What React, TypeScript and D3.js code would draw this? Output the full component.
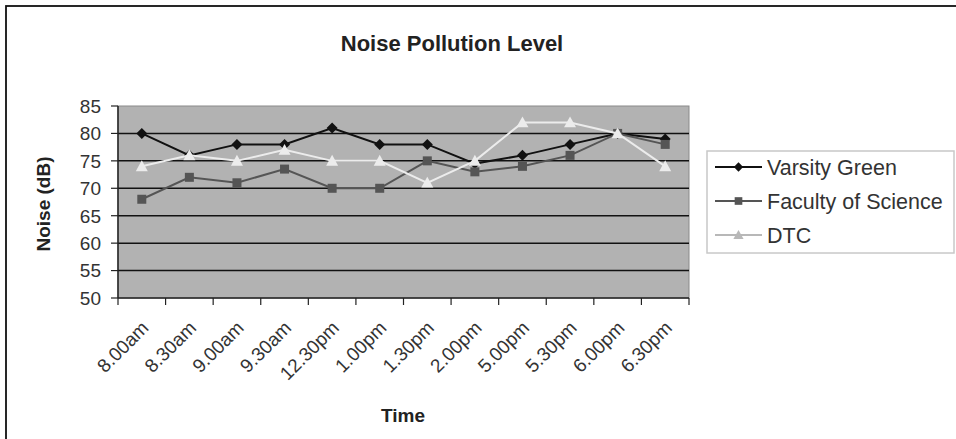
import React from 'react'
import * as d3 from 'd3'

const times = ['8.00am', '8.30am', '9.00am', '9.30am', '12.30pm', '1.00pm', '1.30pm', '2.00pm', '5.00pm', '5.30pm', '6.00pm', '6.30pm']
const varsityGreen = [80, 76, 78, 78, 81, 78, 78, 74.5, 76, 78, 80, 79]
const facultyOfScience = [68, 72, 71, 73.5, 70, 70, 75, 73, 74, 76, 80, 78]
const dtc = [74, 76, 75, 77, 75, 75, 71, 75, 82, 82, 80, 74]
const yTicks = [50, 55, 60, 65, 70, 75, 80, 85]

const W = 956
const H = 439
const plot = { left: 118, right: 689, top: 106, bottom: 298 }
const font = '"Liberation Sans", Arial, sans-serif'

type Series = { name: string; values: number[]; color: string; marker: 'diamond' | 'square' | 'triangle' }

const series: Series[] = [
  { name: 'Varsity Green', values: varsityGreen, color: '#111111', marker: 'diamond' },
  { name: 'Faculty of Science', values: facultyOfScience, color: '#555555', marker: 'square' },
  { name: 'DTC', values: dtc, color: '#ececec', marker: 'triangle' },
]

const Marker = ({ kind, x, y, color, s = 1 }: { kind: Series['marker']; x: number; y: number; color: string; s?: number }) => {
  if (kind === 'diamond') {
    const r = 5.5 * s
    return <path d={`M${x},${y - r}L${x + r},${y}L${x},${y + r}L${x - r},${y}Z`} fill={color} />
  }
  if (kind === 'square') {
    const r = 4.5 * s
    return <rect x={x - r} y={y - r} width={r * 2} height={r * 2} fill={color} />
  }
  const r = 6 * s
  return <path d={`M${x},${y - r}L${x + r},${y + r * 0.8}L${x - r},${y + r * 0.8}Z`} fill={color} />
}

export default function App() {
  const x = d3.scaleBand<string>().domain(times).range([plot.left, plot.right])
  const y = d3.scaleLinear().domain([50, 85]).range([plot.bottom, plot.top])
  const cx = (t: string) => (x(t) ?? 0) + x.bandwidth() / 2
  const line = d3.line<number>().x((_, i) => cx(times[i])).y(d => y(d))

  const legendY = [167, 201, 235]

  return (
    <svg width={W} height={H} style={{ position: 'absolute', left: 0, top: 0, background: '#fff' }} fontFamily={font}>
      <rect x={6} y={6} width={W} height={H} fill="#fff" stroke="#111" strokeWidth={1.8} />

      <text x={452} y={51} textAnchor="middle" fontSize={22} fontWeight="bold" fill="#222">Noise Pollution Level</text>

      {/* plot area */}
      <rect x={plot.left} y={plot.top} width={plot.right - plot.left} height={plot.bottom - plot.top} fill="#b2b2b2" stroke="#8a8a8a" />
      {yTicks.slice(1, -1).map(t => (
        <line key={t} x1={plot.left} x2={plot.right} y1={y(t)} y2={y(t)} stroke="#111" strokeWidth={1.5} />
      ))}

      {/* y axis */}
      <line x1={plot.left} x2={plot.left} y1={plot.top} y2={plot.bottom} stroke="#222" strokeWidth={1.5} />
      {yTicks.map(t => (
        <g key={t}>
          <line x1={plot.left - 7} x2={plot.left} y1={y(t)} y2={y(t)} stroke="#222" strokeWidth={1.2} />
          <text x={plot.left - 17} y={y(t)} dy="0.36em" textAnchor="end" fontSize={19} fill="#333">{t}</text>
        </g>
      ))}
      <text transform={`translate(50,${(plot.top + plot.bottom) / 2 + 2}) rotate(-90)`} textAnchor="middle" fontSize={19} fontWeight="bold" fill="#222">Noise (dB)</text>

      {/* x axis */}
      <line x1={plot.left} x2={plot.right} y1={plot.bottom} y2={plot.bottom} stroke="#222" strokeWidth={1.5} />
      {times.map(t => (
        <line key={t} x1={(x(t) ?? 0) + x.bandwidth()} x2={(x(t) ?? 0) + x.bandwidth()} y1={plot.bottom} y2={plot.bottom + 7} stroke="#222" strokeWidth={1.2} />
      ))}
      <line x1={plot.left} x2={plot.left} y1={plot.bottom} y2={plot.bottom + 7} stroke="#222" strokeWidth={1.2} />
      {times.map(t => (
        <text key={t} transform={`translate(${cx(t) + 8},${plot.bottom + 31}) rotate(-45)`} textAnchor="end" fontSize={19} fill="#333">{t}</text>
      ))}
      <text x={403} y={422} textAnchor="middle" fontSize={19} fontWeight="bold" fill="#222">Time</text>

      {/* series */}
      {series.map(s => (
        <g key={s.name}>
          <path d={line(s.values) ?? ''} fill="none" stroke={s.color} strokeWidth={2} />
          {s.values.map((v, i) => (
            <Marker key={i} kind={s.marker} x={cx(times[i])} y={y(v)} color={s.color} />
          ))}
        </g>
      ))}

      {/* legend */}
      <rect x={707} y={151} width={247} height={102} fill="#fff" stroke="#c8c8c8" strokeWidth={1.5} />
      {series.map((s, i) => (
        <g key={s.name}>
          <line x1={715} x2={762} y1={legendY[i]} y2={legendY[i]} stroke={i === 2 ? '#b8b8b8' : s.color} strokeWidth={2} />
          <Marker kind={s.marker} x={738.5} y={legendY[i]} color={i === 2 ? '#b8b8b8' : s.color} s={0.85} />
          <text x={767} y={legendY[i]} dy="0.36em" fontSize={21.5} fill="#333">{s.name}</text>
        </g>
      ))}
    </svg>
  )
}
